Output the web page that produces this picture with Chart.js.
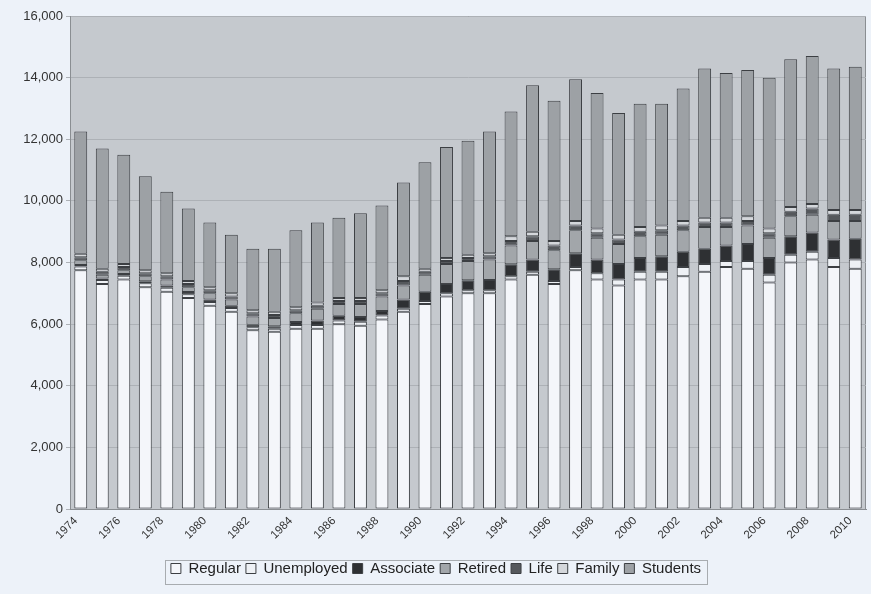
<!DOCTYPE html>
<html>
<head>
<meta charset="utf-8">
<script src="https://cdn.jsdelivr.net/npm/chart.js@4"></script>
<style>
  html, body { margin: 0; padding: 0; background: #edf2f9; }
  #wrap { width: 871px; height: 594px; }
</style>
</head>
<body>
<div id="wrap"><canvas id="myChart"></canvas></div>
<script>
// membership by category, 1974-2010
const years = [];
for (let y = 1974; y <= 2010; y++) years.push(String(y));

const regular = [7750, 7300, 7450, 7200, 7050, 6850, 6600, 6400, 5800, 5750, 5850, 5850, 6000, 5950, 6150, 6400, 6650, 6900, 7000, 7000, 7450, 7600, 7300, 7750, 7450, 7250, 7450, 7450, 7550, 7700, 7850, 7800, 7350, 8000, 8100, 7850, 7800];
const unemployed = [120, 130, 120, 130, 130, 120, 120, 120, 100, 100, 120, 120, 120, 130, 130, 100, 100, 100, 100, 100, 100, 100, 100, 100, 200, 200, 250, 250, 300, 250, 200, 250, 250, 250, 250, 300, 300];
const associate = [50, 50, 60, 60, 70, 70, 80, 80, 80, 80, 100, 150, 150, 150, 150, 300, 300, 300, 320, 330, 390, 400, 380, 450, 450, 500, 450, 500, 500, 500, 500, 550, 550, 600, 620, 600, 670];
const retired = [150, 120, 120, 160, 200, 160, 200, 200, 270, 270, 280, 380, 380, 420, 470, 450, 550, 650, 630, 670, 610, 600, 620, 750, 700, 650, 700, 700, 700, 700, 600, 600, 650, 650, 580, 600, 580];
const life = [100, 100, 100, 100, 100, 100, 100, 100, 100, 100, 100, 100, 100, 100, 100, 150, 100, 100, 100, 100, 150, 150, 150, 150, 150, 150, 150, 150, 150, 150, 150, 150, 150, 150, 200, 200, 200];
const family = [110, 100, 100, 100, 100, 100, 100, 100, 100, 100, 100, 100, 100, 100, 100, 150, 100, 100, 100, 100, 150, 150, 150, 150, 150, 150, 150, 150, 150, 150, 150, 150, 150, 150, 150, 150, 150];
const students = [3970, 3900, 3550, 3050, 2650, 2350, 2100, 1900, 2000, 2050, 2500, 2600, 2600, 2750, 2750, 3050, 3450, 3600, 3700, 3950, 4050, 4750, 4550, 4600, 4400, 3950, 4000, 3950, 4300, 4850, 4700, 4750, 4900, 4800, 4800, 4600, 4650];

const yTicks = [0, 2000, 4000, 6000, 8000, 10000, 12000, 14000, 16000];

const edge = '#3c3f43';

function series(label, data, color) {
  return {
    label: label,
    data: data,
    backgroundColor: color,
    borderColor: edge,
    borderWidth: 1,
    borderSkipped: false,
    barPercentage: 0.6,
    categoryPercentage: 1.0,
  };
}

// grey plot area + legend frame
const frame = {
  id: 'frame',
  beforeDraw(chart) {
    const a = chart.chartArea;
    const c = chart.ctx;
    c.save();
    c.fillStyle = '#c5c9ce';
    c.fillRect(a.left, a.top, a.right - a.left, a.bottom - a.top);
    c.strokeStyle = '#8a8e92';
    c.lineWidth = 1;
    c.strokeRect(a.left + 0.5, a.top + 0.5, a.right - a.left - 1, a.bottom - a.top);
    c.restore();
  },
  afterDraw(chart) {
    const l = chart.legend;
    const c = chart.ctx;
    let minX = Infinity, maxX = -Infinity;
    l.legendHitBoxes.forEach(function (b) {
      minX = Math.min(minX, b.left);
      maxX = Math.max(maxX, b.left + b.width);
    });
    c.save();
    c.strokeStyle = '#a8acb0';
    c.lineWidth = 1;
    c.strokeRect(Math.round(minX - 6) + 0.5, Math.round(l.top + 4) + 0.5, Math.round(maxX - minX + 12), 24);
    c.restore();
  },
};

const ctx = document.getElementById('myChart');

new Chart(ctx, {
  type: 'bar',
  data: {
    labels: years,
    datasets: [
      series('Regular', regular, '#f4f6fa'),
      series('Unemployed', unemployed, '#eef1f5'),
      series('Associate', associate, '#2e3033'),
      series('Retired', retired, '#a2a6aa'),
      series('Life', life, '#55585c'),
      series('Family', family, '#d4d7db'),
      series('Students', students, '#9da1a5'),
    ],
  },
  plugins: [frame],
  options: {
    responsive: true,
    maintainAspectRatio: false,
    animation: false,
    layout: { padding: { top: 16, right: 5, left: 6, bottom: 8 } },
    plugins: {
      tooltip: { enabled: false },
      legend: {
        position: 'bottom',
        labels: {
          boxWidth: 10,
          boxHeight: 10,
          padding: 5,
          color: '#222',
          font: { family: 'Liberation Sans, Arial, sans-serif', size: 15 },
        },
      },
    },
    scales: {
      x: {
        stacked: true,
        grid: { display: false },
        border: { color: '#8a8e92' },
        afterFit: function (scale) { scale.height = 47; },
        ticks: {
          autoSkip: false,
          maxRotation: 45,
          minRotation: 45,
          padding: -3,
          labelOffset: -5,
          color: '#333',
          font: { family: 'Liberation Sans, Arial, sans-serif', size: 11.5 },
          callback: function (value, index) {
            return index % 2 === 0 ? years[index] : '';
          },
        },
      },
      y: {
        stacked: true,
        min: 0,
        max: 16000,
        afterFit: function (scale) { scale.width = 64; },
        afterBuildTicks: function (scale) {
          scale.ticks = yTicks.map(function (v) { return { value: v }; });
        },
        grid: { color: '#adb1b6', tickLength: 4 },
        border: { color: '#8a8e92' },
        ticks: {
          color: '#333',
          font: { family: 'Liberation Sans, Arial, sans-serif', size: 13 },
          callback: function (value) {
            return value.toLocaleString('en-US');
          },
        },
      },
    },
  },
});
</script>
</body>
</html>
